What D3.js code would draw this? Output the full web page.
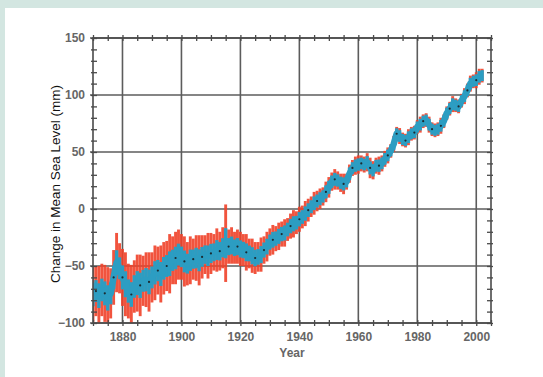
<!DOCTYPE html>
<html>
<head>
<meta charset="utf-8">
<script src="https://cdn.jsdelivr.net/npm/d3@7"></script>
<style>
  body { margin: 0; background: #d3e6e1; }
  svg { display: block; }
  text { font-family: "Liberation Sans", Arial, sans-serif; }
</style>
</head>
<body>
<div id="chart"></div>
<script>
// annual reconstruction of global mean sea level, 1870-2002 (mm)
const firstYear = 1870;
const seaLevel = [
  -75, -72, -76, -71, -74, -78, -74, -60, -47, -52,
  -60, -66, -72, -75, -68, -65, -67, -63, -62, -64,
  -60, -56, -54, -57, -52, -50, -48, -45, -43, -40,
  -42, -46, -48, -45, -44, -43, -45, -42, -40, -41,
  -39, -38, -36, -37, -34, -30, -33, -32, -34, -33,
  -35, -36, -38, -39, -41, -43, -42, -40, -36, -33,
  -29, -27, -26, -24, -22, -21, -18, -15, -13, -12,
  -9, -7, -4, -1, 2, 5, 7, 9, 11, 15,
  19, 24, 26, 25, 23, 22, 24, 31, 36, 38,
  39, 40, 39, 41, 36, 34, 38, 38, 40, 44,
  47, 51, 57, 66, 64, 61, 60, 63, 66, 67,
  72, 74, 77, 78, 74, 70, 69, 70, 73, 77,
  84, 88, 92, 91, 90, 95, 99, 104, 110, 112,
  113, 116, 117
];
// uncertainty (one-sided, mm)
const uncertainty = [
  24, 22, 26, 23, 25, 27, 22, 24, 26, 22,
  25, 28, 24, 26, 23, 25, 27, 22, 24, 26,
  22, 24, 21, 25, 23, 22, 26, 21, 23, 22,
  20, 22, 19, 21, 18, 20, 22, 19, 17, 20,
  18, 16, 19, 17, 18, 34, 15, 16, 14, 15,
  15, 14, 16, 13, 15, 14, 13, 15, 12, 13,
  12, 13, 11, 12, 11, 12, 10, 11, 12, 10,
  11, 10, 11, 10, 9, 10, 9, 9, 8, 9,
  9, 8, 9, 8, 8, 9, 7, 8, 7, 8,
  8, 7, 7, 8, 9, 8, 7, 8, 7, 7,
  7, 6, 7, 6, 7, 6, 6, 7, 6, 6,
  6, 7, 6, 6, 7, 6, 6, 6, 7, 6,
  6, 6, 7, 6, 6, 6, 7, 6, 7, 6,
  7, 7, 6
];
const yearTicks = [1880, 1900, 1920, 1940, 1960, 1980, 2000];
const levelTicks = [-100, -50, 0, 50, 100, 150];

const W = 543, H = 377;
const plot = {left: 93, right: 491, top: 38, bottom: 323};

const data = seaLevel.map((v, i) => ({year: firstYear + i, v: v, e: uncertainty[i]}));

const x = d3.scaleLinear().domain([1870, 2005]).range([plot.left, plot.right]);
const y = d3.scaleLinear().domain([-100, 150]).range([plot.bottom, plot.top]);

const svg = d3.select("#chart").append("svg")
  .attr("width", W)
  .attr("height", H);

// white panel
svg.append("rect")
  .attr("x", 5).attr("y", 8)
  .attr("width", W - 5).attr("height", H - 8)
  .attr("fill", "#ffffff");

svg.append("clipPath").attr("id", "clip")
  .append("rect")
  .attr("x", plot.left).attr("y", plot.top)
  .attr("width", plot.right - plot.left)
  .attr("height", plot.bottom - plot.top);

const gridColor = "#5c5c5c";

// grid
svg.append("g").selectAll("line").data(yearTicks).join("line")
  .attr("x1", d => x(d)).attr("x2", d => x(d))
  .attr("y1", plot.top).attr("y2", plot.bottom)
  .attr("stroke", gridColor).attr("stroke-width", 1.6);
svg.append("g").selectAll("line").data(levelTicks).join("line")
  .attr("x1", plot.left - 3).attr("x2", plot.right)
  .attr("y1", d => y(d)).attr("y2", d => y(d))
  .attr("stroke", gridColor).attr("stroke-width", 1.6);

// series
const series = svg.append("g").attr("clip-path", "url(#clip)");

series.selectAll("line.err").data(data).join("line")
  .attr("class", "err")
  .attr("x1", d => x(d.year)).attr("x2", d => x(d.year))
  .attr("y1", d => y(d.v + d.e)).attr("y2", d => y(d.v - d.e))
  .attr("stroke", "#ef4129")
  .attr("stroke-width", 2.9)
  .attr("stroke-opacity", 0.9);

series.selectAll("line.band").data(data).join("line")
  .attr("class", "band")
  .attr("x1", d => x(d.year)).attr("x2", d => x(d.year))
  .attr("y1", d => y(d.v + 3 + d.e * 0.3)).attr("y2", d => y(d.v - 3 - d.e * 0.3))
  .attr("stroke", "#2c9dc2")
  .attr("stroke-width", 3.4);

series.append("path")
  .datum(data)
  .attr("fill", "none")
  .attr("stroke", "#2c9dc2")
  .attr("stroke-width", 6.5)
  .attr("stroke-linejoin", "round")
  .attr("d", d3.line().x(d => x(d.year)).y(d => y(d.v)));

series.selectAll("circle").data(data.filter((d, i) => i % 3 === 1)).join("circle")
  .attr("cx", d => x(d.year))
  .attr("cy", d => y(d.v))
  .attr("r", 1.1)
  .attr("fill", "#1b2a30");

// frame with minor ticks
const axisColor = "#4a4a4a";
const frame = svg.append("g");
frame.append("rect")
  .attr("x", plot.left).attr("y", plot.top)
  .attr("width", plot.right - plot.left)
  .attr("height", plot.bottom - plot.top)
  .attr("fill", "none")
  .attr("stroke", axisColor).attr("stroke-width", 1.6);

const minorYears = d3.range(1870, 2006, 5);
const minorLevels = d3.range(-100, 151, 10);

frame.append("g")
  .attr("transform", "translate(0," + plot.bottom + ")")
  .call(d3.axisBottom(x).tickValues(minorYears).tickSize(3).tickFormat(""))
  .call(g => g.select(".domain").remove())
  .call(g => g.selectAll("line").attr("y1", -3).attr("stroke", axisColor).attr("stroke-width", 1.3));
frame.append("g")
  .attr("transform", "translate(0," + plot.top + ")")
  .call(d3.axisTop(x).tickValues(minorYears).tickSize(3).tickFormat(""))
  .call(g => g.select(".domain").remove())
  .call(g => g.selectAll("line").attr("y1", 3).attr("stroke", axisColor).attr("stroke-width", 1.3));
frame.append("g")
  .attr("transform", "translate(" + plot.left + ",0)")
  .call(d3.axisLeft(y).tickValues(minorLevels).tickSize(2).tickFormat(""))
  .call(g => g.select(".domain").remove())
  .call(g => g.selectAll("line").attr("x1", 4).attr("stroke", axisColor).attr("stroke-width", 1.3));
frame.append("g")
  .attr("transform", "translate(" + plot.right + ",0)")
  .call(d3.axisRight(y).tickValues(minorLevels).tickSize(2).tickFormat(""))
  .call(g => g.select(".domain").remove())
  .call(g => g.selectAll("line").attr("x1", -4).attr("stroke", axisColor).attr("stroke-width", 1.3));

// tick labels
const labelColor = "#666666";
frame.append("g")
  .attr("transform", "translate(0," + plot.bottom + ")")
  .call(d3.axisBottom(x).tickValues(yearTicks).tickSize(0).tickPadding(9).tickFormat(d3.format("d")))
  .call(g => g.select(".domain").remove())
  .call(g => g.selectAll("text")
    .attr("fill", labelColor)
    .style("font-size", "12px").style("font-weight", "bold")
    .style("font-family", "'Liberation Sans', Arial, sans-serif"));

frame.append("g")
  .attr("transform", "translate(" + plot.left + ",0)")
  .call(d3.axisLeft(y).tickValues(levelTicks).tickSize(0).tickPadding(8).tickFormat(d3.format("d")))
  .call(g => g.select(".domain").remove())
  .call(g => g.selectAll("text")
    .attr("fill", labelColor)
    .style("font-size", "12px").style("font-weight", "bold")
    .style("font-family", "'Liberation Sans', Arial, sans-serif"));

// axis titles
svg.append("text")
  .attr("x", (plot.left + plot.right) / 2)
  .attr("y", 357)
  .attr("text-anchor", "middle")
  .attr("fill", labelColor)
  .style("font-size", "12px")
  .style("font-weight", "bold")
  .text("Year");

svg.append("text")
  .attr("transform", "translate(60,184) rotate(-90)")
  .attr("text-anchor", "middle")
  .attr("fill", "#111")
  .style("font-size", "13.5px")
  .text("Change in Mean Sea Level (mm)");
</script>
</body>
</html>
